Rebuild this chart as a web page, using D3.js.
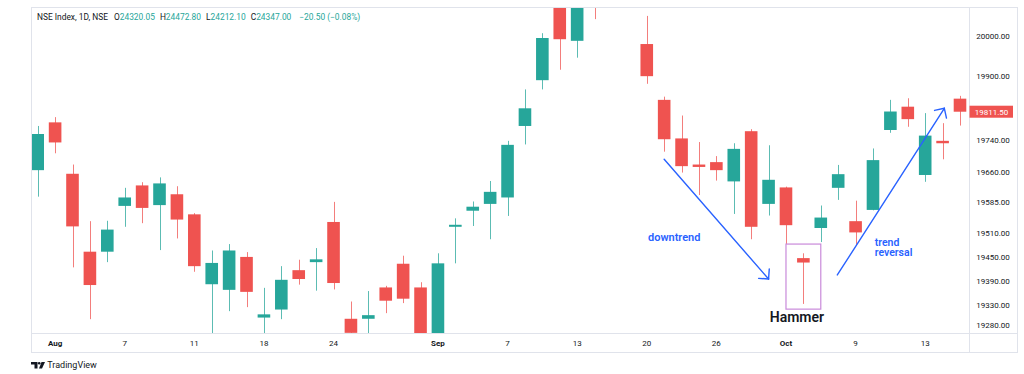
<!DOCTYPE html>
<html>
<head>
<meta charset="utf-8">
<script src="https://cdn.jsdelivr.net/npm/d3@7"></script>
<style>
  body { margin: 0; background: #fff; }
  svg { display: block; }
  text { font-family: Roboto, "Noto Sans", sans-serif; }
</style>
</head>
<body>
<svg id="chart"></svg>
<script>
// daily candles, NIFTY Jul 31 - Oct 17
const dates = [
  "2023-07-31","2023-08-01","2023-08-02","2023-08-03","2023-08-04","2023-08-07","2023-08-08","2023-08-09","2023-08-10","2023-08-11",
  "2023-08-14","2023-08-16","2023-08-17","2023-08-18","2023-08-21","2023-08-22","2023-08-23","2023-08-24","2023-08-25","2023-08-28",
  "2023-08-29","2023-08-30","2023-08-31","2023-09-01","2023-09-04","2023-09-05","2023-09-06","2023-09-07","2023-09-08","2023-09-11",
  "2023-09-12","2023-09-13","2023-09-14","2023-09-15","2023-09-18","2023-09-20","2023-09-21","2023-09-22","2023-09-25","2023-09-26",
  "2023-09-27","2023-09-28","2023-09-29","2023-10-03","2023-10-04","2023-10-05","2023-10-06","2023-10-09","2023-10-10","2023-10-11",
  "2023-10-12","2023-10-13","2023-10-16","2023-10-17"
]
const open = [
  19666,19785,19657,19463,19463,19577,19628,19579,19606,19556,
  19382,19368,19450,19299,19319,19417,19437,19537,19296,19296,
  19374,19433,19374,19258,19525,19565,19582,19598,19776,19890,
  20110,19988,20128,20156,20156,19980,19841,19745,19680,19686,
  19638,19763,19582,19623,19447,19522,19622,19539,19567,19766,
  19824,19654,19739,19844
]
const high = [
  19776,19798,19680,19539,19540,19622,19636,19648,19626,19559,
  19466,19482,19462,19373,19427,19443,19472,19587,19339,19365,
  19378,19453,19387,19459,19546,19588,19639,19739,19867,20007,
  20110,20097,20168,20222,20195,20050,19849,19802,19736,19701,
  19733,19768,19728,19625,19459,19578,19679,19590,19720,19841,
  19845,19808,19783,19851
]
const low = [
  19600,19708,19424,19295,19437,19525,19534,19467,19496,19413,
  19257,19315,19325,19254,19295,19381,19366,19369,19250,19257,
  19310,19335,19223,19255,19434,19527,19494,19552,19730,19867,
  19916,19946,20042,20130,20116,19881,19712,19660,19604,19640,
  19557,19494,19553,19482,19333,19487,19592,19480,19566,19759,
  19774,19637,19693,19777
]
const close = [
  19756,19735,19526,19380,19518,19598,19572,19633,19543,19427,
  19435,19466,19363,19307,19393,19395,19444,19385,19261,19305,
  19341,19346,19254,19434,19530,19575,19612,19729,19820,19995,
  19992,20070,20103,20192,20133,19900,19743,19676,19674,19666,
  19719,19525,19642,19529,19436,19548,19656,19511,19691,19812,
  19793,19752,19733,19811.5
]

const priceTicks = [20000, 19900, 19820, 19740, 19660, 19585, 19510, 19450, 19390, 19330, 19280]
const timeTickDates = ["2023-08-01","2023-08-07","2023-08-11","2023-08-18","2023-08-24","2023-09-01","2023-09-07","2023-09-13","2023-09-20","2023-09-26","2023-10-03","2023-10-09","2023-10-13"]
const timeTickLabels = ["Aug","7","11","18","24","Sep","7","13","20","26","Oct","9","13"]

const headerTitle = "NSE Index, 1D, NSE"
const ohlcKeys = ["O","H","L","C"]
const ohlcValues = ["24320.05","24472.80","24212.10","24347.00"]
const headerChange = "\u221220.50 (\u22120.08%)"
const lastPrice = 19811.50

// annotations, in bar index / price
const downArrow = [[36, 19693], [42, 19395]]
const upArrow = [[45.95, 19405], [52.1, 19820]]
const hammerBox = { i0: 43, i1: 45, p0: 19482, p1: 19320 }
const notes = [
  { text: "downtrend", i: 35.07, p: 19490, anchor: "start", color: "#2962ff", size: 11, weight: 600 },
  { text: "trend", i: 48.1, p: 19478, anchor: "start", color: "#2962ff", size: 10.5, weight: 600 },
  { text: "reversal", i: 48.1, p: 19452, anchor: "start", color: "#2962ff", size: 10.5, weight: 600 },
  { text: "Hammer", i: 43.63, p: 19288, anchor: "middle", color: "#131722", size: 14, weight: 600 }
]

const up = "#26a69a", down = "#ef5350", blue = "#2962ff", border = "#e0e3eb", ink = "#131722"

const width = 1024, height = 374
const frame = { left: 31, top: 7, right: 1017, bottom: 352 }
const plotRight = 969, plotBottom = 333

const candles = dates.map((d, i) => ({ date: d, i, o: open[i], h: high[i], l: low[i], c: close[i] }))

const x = d3.scaleLinear().domain([0, dates.length - 1]).range([37.7, 960])
const y = d3.scaleLinear().domain([19280, 20000]).range([325.2, 36])

const svg = d3.select("#chart").attr("width", width).attr("height", height)

svg.append("defs").append("clipPath").attr("id", "plot")
  .append("rect")
  .attr("x", frame.left + 1).attr("y", frame.top + 1)
  .attr("width", plotRight - frame.left - 1).attr("height", plotBottom - frame.top - 1)

// frame
svg.append("rect")
  .attr("x", frame.left + 0.5).attr("y", frame.top + 0.5)
  .attr("width", frame.right - frame.left).attr("height", frame.bottom - frame.top)
  .attr("fill", "none").attr("stroke", border)
svg.append("line")
  .attr("x1", plotRight + 0.5).attr("x2", plotRight + 0.5)
  .attr("y1", frame.top).attr("y2", frame.bottom)
  .attr("stroke", border)
svg.append("line")
  .attr("x1", frame.left).attr("x2", frame.right)
  .attr("y1", plotBottom + 0.5).attr("y2", plotBottom + 0.5)
  .attr("stroke", border)

const plot = svg.append("g").attr("clip-path", "url(#plot)")

const bw = 12.6
const g = plot.selectAll("g.candle")
  .data(candles)
  .join("g")
    .attr("class", "candle")
    .attr("fill", d => d.c >= d.o ? up : down)
    .attr("stroke", d => d.c >= d.o ? up : down)

g.append("line")
  .attr("x1", d => Math.round(x(d.i)) + 0.5)
  .attr("x2", d => Math.round(x(d.i)) + 0.5)
  .attr("y1", d => y(d.h))
  .attr("y2", d => y(d.l))
  .attr("stroke-width", 1)
  .attr("stroke-opacity", 0.75)

g.append("rect")
  .attr("x", d => x(d.i) - bw / 2)
  .attr("width", bw)
  .attr("y", d => y(Math.max(d.o, d.c)))
  .attr("height", d => Math.max(2, Math.abs(y(d.o) - y(d.c))))
  .attr("stroke", "none")

// annotations
const pt = p => [x(p[0]), y(p[1])]

function arrow(sel, pts) {
  const a = pt(pts[0]), b = pt(pts[1])
  const ang = Math.atan2(a[1] - b[1], a[0] - b[0])
  const len = 10
  const grp = sel.append("g").attr("stroke", blue).attr("stroke-width", 1.4).attr("fill", "none")
    .attr("stroke-linecap", "round")
  grp.append("line").attr("x1", a[0]).attr("y1", a[1]).attr("x2", b[0]).attr("y2", b[1])
  ;[-Math.PI / 4, Math.PI / 4].forEach(o => {
    grp.append("line")
      .attr("x1", b[0]).attr("y1", b[1])
      .attr("x2", b[0] + len * Math.cos(ang + o))
      .attr("y2", b[1] + len * Math.sin(ang + o))
  })
}
arrow(svg, downArrow)
arrow(svg, upArrow)

svg.append("rect")
  .attr("x", x(hammerBox.i0)).attr("y", y(hammerBox.p0))
  .attr("width", x(hammerBox.i1) - x(hammerBox.i0))
  .attr("height", y(hammerBox.p1) - y(hammerBox.p0))
  .attr("fill", "none").attr("stroke", "#c98ada").attr("stroke-width", 1.2)

svg.append("g").selectAll("text")
  .data(notes)
  .join("text")
    .attr("x", d => x(d.i)).attr("y", d => y(d.p))
    .attr("text-anchor", d => d.anchor)
    .attr("fill", d => d.color)
    .attr("font-size", d => d.size)
    .attr("font-weight", d => d.weight)
    .text(d => d.text)

// price axis
const yAxis = svg.append("g")
yAxis.selectAll("text")
  .data(priceTicks)
  .join("text")
    .attr("x", 993).attr("y", d => y(d))
    .attr("dy", "0.35em")
    .attr("text-anchor", "middle")
    .attr("font-size", 8)
    .attr("fill", ink)
    .text(d => d3.format(".2f")(d))

const ly = y(lastPrice)
svg.append("rect")
  .attr("x", plotRight + 0.5).attr("y", ly - 6)
  .attr("width", 43.5).attr("height", 12)
  .attr("fill", down)
svg.append("text")
  .attr("x", 991.5).attr("y", ly).attr("dy", "0.35em")
  .attr("text-anchor", "middle").attr("font-size", 8).attr("fill", "#fff")
  .text(d3.format(".2f")(lastPrice))

// time axis
svg.append("g").selectAll("text")
  .data(timeTickDates)
  .join("text")
    .attr("x", d => x(dates.indexOf(d)))
    .attr("y", 343).attr("dy", "0.35em")
    .attr("text-anchor", "middle")
    .attr("font-size", 8)
    .attr("font-weight", (d, i) => isNaN(+timeTickLabels[i]) ? 700 : 400)
    .attr("fill", ink)
    .text((d, i) => timeTickLabels[i])

// header legend
const head = svg.append("text").attr("x", 37).attr("y", 19.5).attr("font-size", 8.4).attr("fill", ink)
head.append("tspan").text(headerTitle)
ohlcKeys.forEach((k, i) => {
  head.append("tspan").attr("dx", i === 0 ? 6 : 5).attr("fill", ink).text(k)
  head.append("tspan").attr("fill", up).text(ohlcValues[i])
})
head.append("tspan").attr("dx", 8).attr("fill", up).text(headerChange)

// TradingView mark
const logo = svg.append("g").attr("fill", ink)
logo.append("path").attr("d", "M31 362h6.5v6.5h-3v-4h-3.5z")
logo.append("circle").attr("cx", 39.2).attr("cy", 363.3).attr("r", 1.3)
logo.append("path").attr("d", "M41.5 362h3.5l-3 6.5h-3z")
svg.append("text")
  .attr("x", 47.3).attr("y", 365).attr("dy", "0.35em")
  .attr("font-size", 9).attr("fill", ink)
  .text("TradingView")
</script>
</body>
</html>
